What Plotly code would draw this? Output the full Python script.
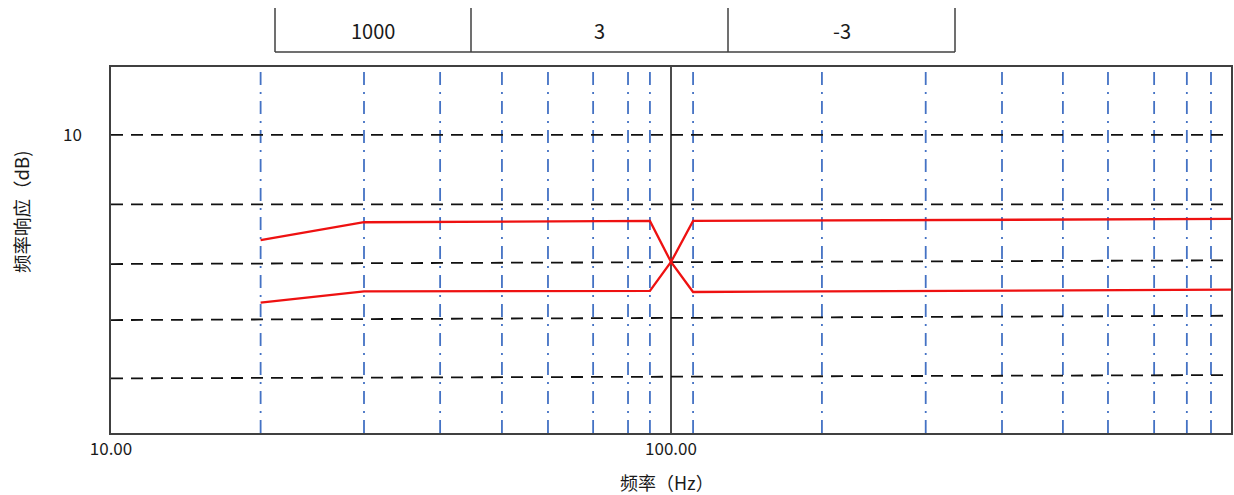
import plotly.graph_objects as go

# ---- data ----
grid_freqs = [18.5, 28.3, 38.7, 49.9, 60.3, 72.6, 83.8, 91.7, 109.5,
              186, 285, 390, 501, 603, 729, 834, 921]
center_freq = 100
ref_levels_left = [10, 4.54, -0.16, -4.57, -9.16]
ref_levels_right = [10, 4.54, 0.13, -4.23, -8.9]
curve_freq = [18.5, 28.3, 91.7, 100, 109.5, 1000]
curve_a = [1.73, 3.13, 3.23, 0, -2.36, -2.18]
curve_b = [-3.2, -2.31, -2.28, 0, 3.23, 3.39]
header_values = ["1000", "3", "-3"]
x_tick_vals = [10, 100]
y_tick_vals = [10]

x_min, x_max = 10, 1000
y_min, y_max = -13.46, 15.35

FONT = "Noto Sans CJK SC"

fig = go.Figure()

# vertical dash-dot grid lines
vx, vy = [], []
for f in grid_freqs:
    vx += [f, f, None]
    vy += [y_min, y_max, None]
fig.add_trace(go.Scatter(x=vx, y=vy, mode="lines", hoverinfo="skip",
                         line=dict(color="#4472C4", width=1.8, dash="13px,7px,2px,7px")))

# horizontal dashed reference lines
hx, hy = [], []
for a, b in zip(ref_levels_left, ref_levels_right):
    hx += [x_min, x_max, None]
    hy += [a, b, None]
fig.add_trace(go.Scatter(x=hx, y=hy, mode="lines", hoverinfo="skip",
                         line=dict(color="#111111", width=1.8, dash="12px,8px")))

# center solid line
fig.add_trace(go.Scatter(x=[center_freq, center_freq], y=[y_min, y_max], mode="lines",
                         hoverinfo="skip", line=dict(color="#111111", width=1.5)))

# red curves
fig.add_trace(go.Scatter(x=curve_freq, y=curve_a, mode="lines",
                         line=dict(color="#EE1111", width=2.3)))
fig.add_trace(go.Scatter(x=curve_freq, y=curve_b, mode="lines",
                         line=dict(color="#EE1111", width=2.3)))

# header table (paper coordinates)
L, R, T, B = 111, 3, 67, 62
W, H = 1234, 495
pw, ph = W - L - R, H - T - B


def px(x):
    return (x - L) / pw


def py(y):
    return (H - B - y) / ph


cells = [275, 471, 728, 955]
top_y, bot_y = 8, 52
shapes = []
for c in cells:
    shapes.append(dict(type="line", xref="paper", yref="paper",
                       x0=px(c), x1=px(c), y0=py(top_y), y1=py(bot_y),
                       line=dict(color="#404040", width=1.5)))
shapes.append(dict(type="line", xref="paper", yref="paper",
                   x0=px(cells[0]), x1=px(cells[-1]), y0=py(bot_y), y1=py(bot_y),
                   line=dict(color="#404040", width=1.5)))

annotations = []
for i, v in enumerate(header_values):
    cx = (cells[i] + cells[i + 1]) / 2
    annotations.append(dict(text=v, xref="paper", yref="paper", x=px(cx), y=py(31),
                            showarrow=False, xanchor="center", yanchor="middle",
                            font=dict(family=FONT, size=20, color="#1a1a1a")))
annotations.append(dict(text="频率响应（dB)", xref="paper", yref="paper",
                        x=px(21), y=py(212), textangle=-90, showarrow=False,
                        xanchor="center", yanchor="middle",
                        font=dict(family=FONT, size=18.5, color="#1a1a1a")))
annotations.append(dict(text="频率（Hz）", xref="paper", yref="paper",
                        x=px(667), y=py(482), showarrow=False,
                        xanchor="center", yanchor="middle",
                        font=dict(family=FONT, size=18, color="#1a1a1a")))

fig.update_layout(
    width=W, height=H,
    margin=dict(l=L, r=R, t=T, b=B, autoexpand=False),
    paper_bgcolor="white", plot_bgcolor="white",
    showlegend=False,
    shapes=shapes, annotations=annotations,
    xaxis=dict(type="log", range=[1, 3], tickvals=x_tick_vals,
               ticktext=[f"{v:.2f}" for v in x_tick_vals],
               showgrid=False, zeroline=False, showline=True, mirror=True,
               linecolor="#404040", linewidth=1.5, ticks="",
               tickfont=dict(family=FONT, size=17, color="#1a1a1a")),
    yaxis=dict(range=[y_min, y_max], tickvals=y_tick_vals,
               showgrid=False, zeroline=False, showline=True, mirror=True,
               linecolor="#404040", linewidth=1.5, ticks="", ticklabelstandoff=24,
               tickfont=dict(family=FONT, size=17, color="#1a1a1a")),
)

fig.write_html("out.html", config={"displayModeBar": False},
               post_script="document.body.style.margin='0';document.body.style.overflow='hidden';")
